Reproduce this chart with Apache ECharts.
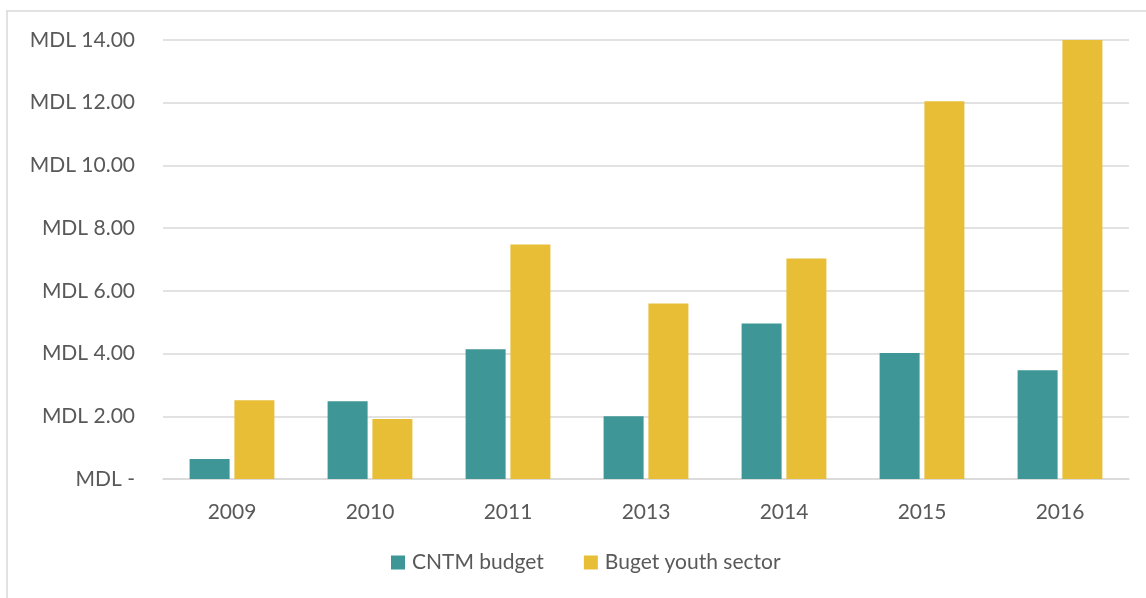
<!DOCTYPE html>
<html>
<head>
<meta charset="utf-8">
<script src="https://cdn.jsdelivr.net/npm/echarts@6/dist/echarts.min.js"></script>
<style>
html,body{margin:0;padding:0;background:#fff;}
#c{width:1146px;height:598px;}
</style>
</head>
<body>
<div id="c"></div>
<script>
var categories = ['2009','2010','2011','2013','2014','2015','2016'];
var cntmBudget = [0.64, 2.48, 4.14, 2.00, 4.96, 4.02, 3.47];
var youthBudget = [2.51, 1.91, 7.48, 5.60, 7.03, 12.05, 14.00];
var seriesNames = ['CNTM budget', 'Buget youth sector'];

var FONT = 'Lato, "Open Sans", sans-serif';
var chart = echarts.init(document.getElementById('c'));
chart.setOption({
  animation: false,
  backgroundColor: '#fff',
  textStyle: {fontFamily: FONT},
  graphic: [{
    type: 'rect', silent: true,
    shape: {x: 7, y: 11, width: 1200, height: 700},
    style: {fill: 'none', stroke: '#d9d9d9', lineWidth: 1.5}
  }],
  grid: {left: 163, right: 17, top: 40, bottom: 119, containLabel: false},
  legend: {
    bottom: 20, left: 386,
    itemWidth: 14, itemHeight: 14, itemGap: 40,
    icon: 'rect',
    textStyle: {color: '#595959', fontSize: 21, fontFamily: FONT, padding: [0,0,0,2]},
    data: seriesNames
  },
  xAxis: {
    type: 'category', data: categories,
    axisLine: {lineStyle: {color: '#d9d9d9', width: 1.5}},
    axisTick: {show: false},
    axisLabel: {color: '#595959', fontSize: 21, margin: 23, fontFamily: FONT}
  },
  yAxis: {
    type: 'value', min: 0, max: 14, interval: 2,
    axisLine: {show: false}, axisTick: {show: false},
    splitLine: {lineStyle: {color: '#d9d9d9', width: 1.5}},
    axisLabel: {
      color: '#595959', fontSize: 21, margin: 28, fontFamily: FONT,
      formatter: function(v){ return v === 0 ? 'MDL -' : 'MDL ' + v.toFixed(2); }
    }
  },
  series: [
    {name: seriesNames[0], type: 'bar', data: cntmBudget, barWidth: 40, barGap: '12%',
     itemStyle: {color: '#3e9696'}},
    {name: seriesNames[1], type: 'bar', data: youthBudget, barWidth: 40, barGap: '12%',
     itemStyle: {color: '#e8be37'}}
  ]
});
</script>
</body>
</html>
